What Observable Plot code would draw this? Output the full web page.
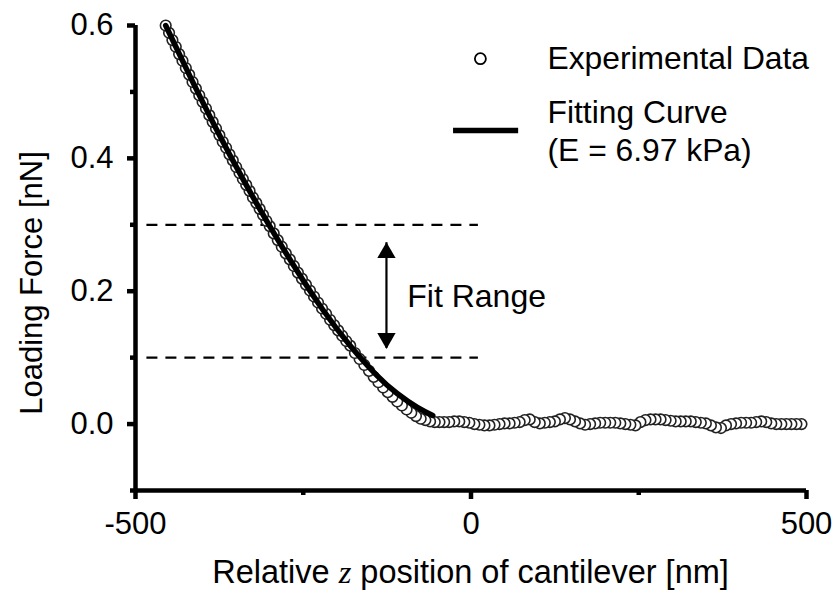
<!DOCTYPE html>
<html><head><meta charset="utf-8">
<script src="https://cdn.jsdelivr.net/npm/d3@7"></script>
<script src="https://cdn.jsdelivr.net/npm/@observablehq/plot@0.6"></script>
<style>body{margin:0;background:#fff} svg{display:block}</style>
</head><body><div id="chart"></div>
<script>
// Experimental data (relative z position [nm], loading force [nN])
const xExp = [
-455,-450,-445,-440,-435,-430,-425,-420,-415,-410,-405,-400,-395,-390,-385,-380,-375,-370,-365,-360,-355,-350,-345,-340,-335,-330,-325,-320,-315,-310,-305,-300,
-294,-288,-282,-276,-270,-264,-258,-252,-246,-240,-234,-228,-222,-216,-210,-204,-198,-192,-186,-180,
-173,-166,-159,-152,-145,-138,-131,-124,-117,-110,-103,-96,-89,-82,-75,-68,-61,-54,-47,-40,
-32.5,-25,-17.5,-10,-2.5,5,12.5,20,27.5,35,42.5,50,57.5,65,72.5,80,87.5,95,102.5,110,117.5,125,132.5,140,147.5,155,162.5,170,177.5,185,192.5,200,207.5,215,222.5,230,237.5,245,252.5,260,267.5,275,282.5,290,297.5,305,312.5,320,327.5,335,342.5,350,357.5,365,372.5,380,387.5,395,402.5,410,417.5,425,432.5,440,447.5,455,462.5,470,477.5,485,492.5
];
const yExp = [
0.600,0.589,0.578,0.568,0.557,0.547,0.536,0.526,0.515,0.505,0.495,0.485,0.475,0.465,0.455,0.445,0.435,0.425,0.416,0.406,0.397,0.387,0.378,0.369,0.360,0.351,0.341,0.333,0.324,0.315,0.306,0.298,
0.287,0.277,0.267,0.257,0.248,0.238,0.228,0.219,0.210,0.201,0.192,0.183,0.174,0.166,0.157,0.149,0.141,0.133,0.125,0.118,
0.107,0.098,0.089,0.080,0.071,0.063,0.055,0.048,0.041,0.034,0.028,0.022,0.017,0.012,0.008,0.006,0.004,0.003,0.003,0.003,
0.003,0.004,0.004,0.003,0.002,0.000,-0.001,-0.002,-0.002,-0.001,0.000,0.001,0.001,0.002,0.003,0.006,0.007,0.003,0.001,0.002,0.003,0.004,0.007,0.009,0.007,0.004,0.001,-0.001,0.000,0.001,0.002,0.002,0.002,0.002,0.001,0.000,-0.001,-0.002,0.003,0.006,0.007,0.007,0.007,0.006,0.005,0.004,0.004,0.004,0.004,0.003,0.002,0.001,-0.002,-0.005,-0.006,-0.002,0.000,0.001,0.002,0.002,0.002,0.003,0.004,0.003,0.001,0.000,0.000,0.000,0.000,0.000,0.000
];
// Fitting curve (E = 6.97 kPa)
const xFit = [-455,-420,-380,-340,-300,-260,-220,-180,-140,-110,-80,-57];
const yFit = [0.600,0.526,0.445,0.369,0.298,0.232,0.171,0.118,0.073,0.046,0.025,0.013];

const xDomain = [-500, 500];
const yDomain = [-0.1, 0.6];
const xMajorTicks = [-500, 0, 500];
const xMinorTicks = [-250, 250];
const yMajorTicks = [0, 0.2, 0.4, 0.6];
const yMinorTicks = [-0.1, 0.1, 0.3, 0.5];
const fitRangeBounds = [0.1, 0.3];
const legendLabels = ["Experimental Data", "Fitting Curve", "(E = 6.97 kPa)"];
const fitRangeLabel = "Fit Range";
const yTitle = "Loading Force [nN]";
const xTitleParts = ["Relative ", "z", " position of cantilever [nm]"];

// annotation anchors in data units
const dashSpan = [-483, 11];
const arrowX = -126, arrowTop = 0.273, arrowBottom = 0.114;
const fitLabelPos = {x: -95, y: 0.192};
const legendSymbolX = 14, legendLineX = [-26, 71], legendTextX = 114;
const legendY = [0.550, 0.468, 0.412, 0.442];

const expData = xExp.map((x, i) => ({x, y: yExp[i]})).reverse();
const fitData = xFit.map((x, i) => ({x, y: yFit[i]}));

const font = "'Liberation Sans', Arial, sans-serif";

const plot = Plot.plot({
  width: 840, height: 594,
  marginLeft: 135, marginRight: 34, marginTop: 25, marginBottom: 104,
  style: {fontFamily: font, fontSize: "31px", color: "black", background: "white"},
  x: {domain: xDomain},
  y: {domain: yDomain},
  marks: [
    Plot.axisX(xMajorTicks, {tickSize: 9, tickPadding: 12, strokeWidth: 4.5, tickFormat: d => String(d), label: null}),
    Plot.axisX(xMinorTicks, {tickSize: 5, strokeWidth: 4.5, text: null, label: null}),
    Plot.axisY(yMajorTicks, {tickSize: 8, tickPadding: 14, strokeWidth: 4.5, tickFormat: d3.format(".1f"), label: null}),
    Plot.axisY(yMinorTicks, {tickSize: 5, strokeWidth: 4.5, text: null, label: null}),
    Plot.ruleX([xDomain[0]], {y1: yDomain[0], y2: yDomain[1], strokeWidth: 4.5}),
    Plot.ruleY([yDomain[0]], {x1: xDomain[0], x2: xDomain[1], strokeWidth: 4.5}),
    Plot.ruleY(fitRangeBounds, {x1: dashSpan[0], x2: dashSpan[1], strokeWidth: 2.2, strokeDasharray: "11,8"}),
    Plot.ruleX([arrowX], {y1: arrowTop, y2: arrowBottom, strokeWidth: 2.2}),
    Plot.dot([{x: arrowX, y: arrowTop}], {x: "x", y: "y", symbol: "triangle", r: 6.8, fill: "black", stroke: "none", dy: 10}),
    Plot.dot([{x: arrowX, y: arrowBottom}], {x: "x", y: "y", symbol: "triangle", r: 6.8, fill: "black", stroke: "none", rotate: 180, dy: -10}),
    Plot.text([fitRangeLabel], {x: fitLabelPos.x, y: fitLabelPos.y, text: d => d, textAnchor: "start", lineAnchor: "middle", fill: "black", fontSize: 32}),
    Plot.dot(expData, {x: "x", y: "y", r: 5.3, fill: "white", stroke: "#222", strokeWidth: 1.6}),
    Plot.line(fitData, {x: "x", y: "y", stroke: "black", strokeWidth: 5.5, curve: "natural"}),
    // legend
    Plot.dot([0], {x: legendSymbolX, y: legendY[0], r: 5.5, fill: "white", stroke: "black", strokeWidth: 1.8}),
    Plot.ruleY([legendY[3]], {x1: legendLineX[0], x2: legendLineX[1], strokeWidth: 5.5}),
    Plot.text(legendLabels, {x: legendTextX, y: (d, i) => legendY[i], text: d => d, textAnchor: "start", lineAnchor: "middle", fill: "black", fontSize: 31.8})
  ]
});

const svg = d3.select(plot);
const xs = plot.scale("x");
const cx = (xs.apply(xDomain[0]) + xs.apply(xDomain[1])) / 2;
const t = svg.append("text").attr("x", cx).attr("y", 583).attr("text-anchor", "middle")
  .attr("font-family", font).attr("font-size", 32.5).attr("fill", "black");
t.append("tspan").text(xTitleParts[0]);
t.append("tspan").attr("font-family", "'Liberation Serif', 'Times New Roman', serif").attr("font-style", "italic").text(xTitleParts[1]);
t.append("tspan").text(xTitleParts[2]);

svg.append("text").attr("transform", "translate(42,283) rotate(-90)").attr("text-anchor", "middle")
  .attr("font-family", font).attr("font-size", 31).attr("fill", "black").text(yTitle);

document.getElementById("chart").appendChild(plot);
</script>
</body></html>
